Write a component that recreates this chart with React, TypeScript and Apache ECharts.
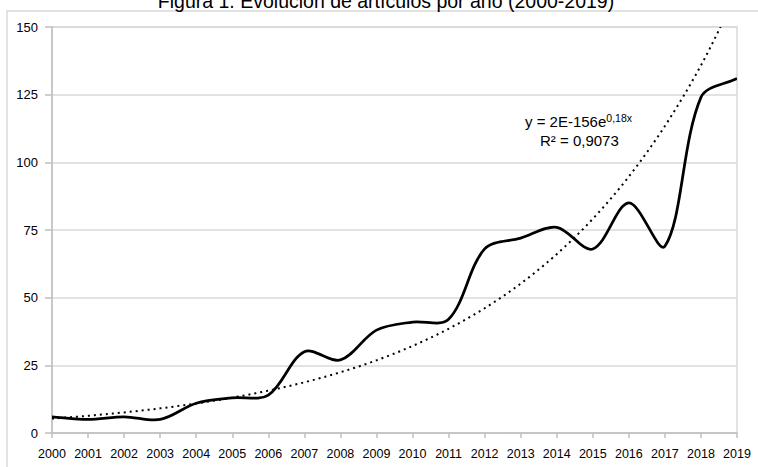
import React, { useEffect, useRef } from "react";
import * as echarts from "echarts";

const titleText = "Figura 1. Evolución de artículos por año (2000-2019)";
const years = ["2000", "2001", "2002", "2003", "2004", "2005", "2006", "2007", "2008", "2009", "2010", "2011", "2012", "2013", "2014", "2015", "2016", "2017", "2018", "2019"];
const articles = [6, 5, 6, 5, 11, 13, 14, 30, 27, 38, 41, 42, 68, 72, 76, 68, 85, 69, 124, 131];
const yTicks = [0, 25, 50, 75, 100, 125, 150];
const equationMain = "y = 2E-156e";
const equationExp = "0,18x";
const rSquared = "R² = 0,9073";

// Exponential trendline (least squares on ln y), as the spreadsheet computes it
function expTrend(values: number[]): number[] {
  const n = values.length;
  const xs = values.map((_, i) => i);
  const ls = values.map((v) => Math.log(v));
  const mx = xs.reduce((a, b) => a + b, 0) / n;
  const ml = ls.reduce((a, b) => a + b, 0) / n;
  let sxy = 0;
  let sxx = 0;
  for (let i = 0; i < n; i++) {
    sxy += (xs[i] - mx) * (ls[i] - ml);
    sxx += (xs[i] - mx) * (xs[i] - mx);
  }
  const b = sxy / sxx;
  const a = ml - b * mx;
  return xs.map((x) => Math.exp(a + b * x));
}

const FONT = "'Liberation Sans', Arial, sans-serif";

// Spreadsheet-style smoothed line (Bézier, tangents weighted by segment lengths) through the axis-mapped points
function smoothRenderer(values: number[], style: any) {
  return (params: any, api: any) => {
    if (params.dataIndex !== 0) return null;
    const pts = values.map((v, i) => api.coord([i, v]));
    const n = pts.length;
    const P = (k: number) => {
      if (k < 0) return [2 * pts[0][0] - pts[1][0], 2 * pts[0][1] - pts[1][1]];
      if (k > n - 1) return [2 * pts[n - 1][0] - pts[n - 2][0], 2 * pts[n - 1][1] - pts[n - 2][1]];
      return pts[k];
    };
    const dist = (a: number[], b: number[]) => Math.hypot(b[0] - a[0], b[1] - a[1]);
    const t = 1 / 3;
    let d = `M${pts[0][0]},${pts[0][1]}`;
    for (let i = 0; i < n - 1; i++) {
      const p0 = P(i - 1), p1 = P(i), p2 = P(i + 1), p3 = P(i + 2);
      const d01 = dist(p0, p1), d12 = dist(p1, p2), d23 = dist(p2, p3);
      const r1 = d12 / (d01 + d12);
      const r2 = d12 / (d12 + d23);
      const c1x = p1[0] + (p2[0] - p0[0]) * t * r1;
      const c1y = p1[1] + (p2[1] - p0[1]) * t * r1;
      const c2x = p2[0] - (p3[0] - p1[0]) * t * r2;
      const c2y = p2[1] - (p3[1] - p1[1]) * t * r2;
      d += ` C${c1x},${c1y} ${c2x},${c2y} ${p2[0]},${p2[1]}`;
    }
    return {
      type: "path",
      shape: { pathData: d },
      style: { fill: "none", ...style },
    };
  };
}

export default function App() {
  const ref = useRef<HTMLDivElement>(null);
  useEffect(() => {
    if (!ref.current) return;
    const chart = echarts.init(ref.current, undefined, { renderer: "svg" });
    const trend = expTrend(articles);
    chart.setOption({
      animation: false,
      backgroundColor: "#ffffff",
      grid: {
        left: 52,
        right: 21,
        top: 27,
        bottom: 34,
        show: true,
        borderColor: "#d9d9d9",
        borderWidth: 1.5,
        backgroundColor: "transparent",
      },
      xAxis: {
        type: "category",
        data: years,
        boundaryGap: false,
        axisLine: { show: true, lineStyle: { color: "#bfbfbf", width: 1.5 } },
        axisTick: { show: true, alignWithLabel: true, length: 5, lineStyle: { color: "#bfbfbf", width: 1.5 } },
        axisLabel: { color: "#000", fontFamily: FONT, fontSize: 12.5, margin: 14, interval: 0 },
        splitLine: { show: false },
      },
      yAxis: {
        type: "value",
        min: yTicks[0],
        max: yTicks[yTicks.length - 1],
        interval: 25,
        axisLine: { show: true, lineStyle: { color: "#bfbfbf", width: 1.5 } },
        axisTick: { show: true, length: 7, lineStyle: { color: "#bfbfbf", width: 1.5 } },
        axisLabel: { color: "#000", fontFamily: FONT, fontSize: 13, margin: 14 },
        splitLine: { show: true, lineStyle: { color: "#d9d9d9", width: 1.5 } },
      },
      series: [
        {
          name: "Artículos",
          type: "custom",
          data: articles.map((v, i) => [i, v]),
          encode: { x: 0, y: 1 },
          renderItem: smoothRenderer(articles, { stroke: "#000", lineWidth: 2.75, lineJoin: "round" }),
          clip: true,
          z: 3,
        },
        {
          name: "Tendencia",
          type: "custom",
          data: trend.map((v, i) => [i, v]),
          encode: { x: 0, y: 1 },
          renderItem: smoothRenderer(trend, { stroke: "#000", lineWidth: 2, lineDash: [2, 4] }),
          clip: true,
          z: 2,
        },
      ],
      graphic: [
        {
          type: "rect",
          z: -10,
          silent: true,
          shape: { x: 7, y: 11, width: 800, height: 500 },
          style: { fill: "none", stroke: "#d9d9d9", lineWidth: 1.5 },
        },
        {
          type: "text",
          x: 386,
          y: 0.5,
          style: {
            text: titleText,
            align: "center",
            verticalAlign: "middle",
            fontFamily: FONT,
            fontSize: 19.5,
            fill: "#000",
          },
        },
        {
          type: "text",
          x: 525,
          y: 121,
          z: 10,
          style: {
            text: "{a|" + equationMain + "}{b|" + equationExp + "}",
            align: "left",
            verticalAlign: "middle",
            fill: "#000",
            rich: {
              a: { fontFamily: FONT, fontSize: 15, lineHeight: 18, fill: "#000" },
              b: { fontFamily: FONT, fontSize: 10.5, lineHeight: 10, fill: "#000", verticalAlign: "top" },
            },
          },
        },
        {
          type: "text",
          x: 540,
          y: 140.5,
          z: 10,
          style: {
            text: rSquared,
            align: "left",
            verticalAlign: "middle",
            fontFamily: FONT,
            fontSize: 15,
            fill: "#000",
          },
        },
      ],
    });
    return () => chart.dispose();
  }, []);
  return (
    <div
      ref={ref}
      style={{ position: "fixed", left: 0, top: 0, width: 758, height: 467 }}
    />
  );
}
